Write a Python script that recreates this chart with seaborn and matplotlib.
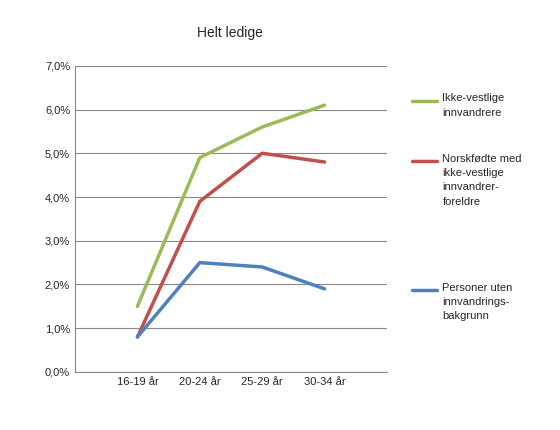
import numpy as np
import pandas as pd
import seaborn as sns
import matplotlib.pyplot as plt
from matplotlib.lines import Line2D
from matplotlib.ticker import FuncFormatter

categories = ["16-19 år", "20-24 år", "25-29 år", "30-34 år"]
ikke_vestlige = [1.5, 4.9, 5.6, 6.1]
norskfodte = [0.8, 3.9, 5.0, 4.8]
uten_bakgrunn = [0.8, 2.5, 2.4, 1.9]

series = [
    ("Ikke-vestlige\ninnvandrere", ikke_vestlige, "#9BBB59"),
    ("Norskfødte med\nikke-vestlige\ninnvandrer-\nforeldre", norskfodte, "#C0504D"),
    ("Personer uten\ninnvandrings-\nbakgrunn", uten_bakgrunn, "#4F81BD"),
]

sns.set_style("white")
plt.rcParams["font.family"] = ["Liberation Sans", "DejaVu Sans"]

fig = plt.figure(figsize=(5.6, 4.3), dpi=100)
ax = fig.add_axes([0.134, 0.135, 0.557, 0.712])

for label, vals, color in series:
    df = pd.DataFrame({"x": np.arange(len(categories)), "y": vals})
    sns.lineplot(data=df, x="x", y="y", ax=ax, color=color, linewidth=2.5)

ax.set_xlim(-1, 4)
ax.set_ylim(0, 7)
ax.set_yticks(np.arange(0, 8, 1))
ax.yaxis.set_major_formatter(FuncFormatter(lambda v, _: f"{v:.1f}%".replace(".", ",")))
ax.set_xticks(range(len(categories)))
ax.set_xticklabels(categories)
ax.tick_params(labelsize=8, length=0)
ax.grid(axis="y", color="#888888", linewidth=0.8)
ax.set_xlabel("")
ax.set_ylabel("")
for side in ["top", "right"]:
    ax.spines[side].set_visible(False)
for side in ["left", "bottom"]:
    ax.spines[side].set_color("#888888")

fig.suptitle("Helt ledige", x=0.41, y=0.94, fontsize=10)

# legend drawn beside the plot
legend_y = [0.765, 0.625, 0.325]
for (label, vals, color), y in zip(series, legend_y):
    fig.add_artist(Line2D([0.735, 0.78], [y, y], color=color, linewidth=2.5,
                          transform=fig.transFigure))
    fig.text(0.79, y + 0.018, label, fontsize=8, va="top", ha="left",
             linespacing=1.55)

fig.savefig("out.png", dpi=100)
